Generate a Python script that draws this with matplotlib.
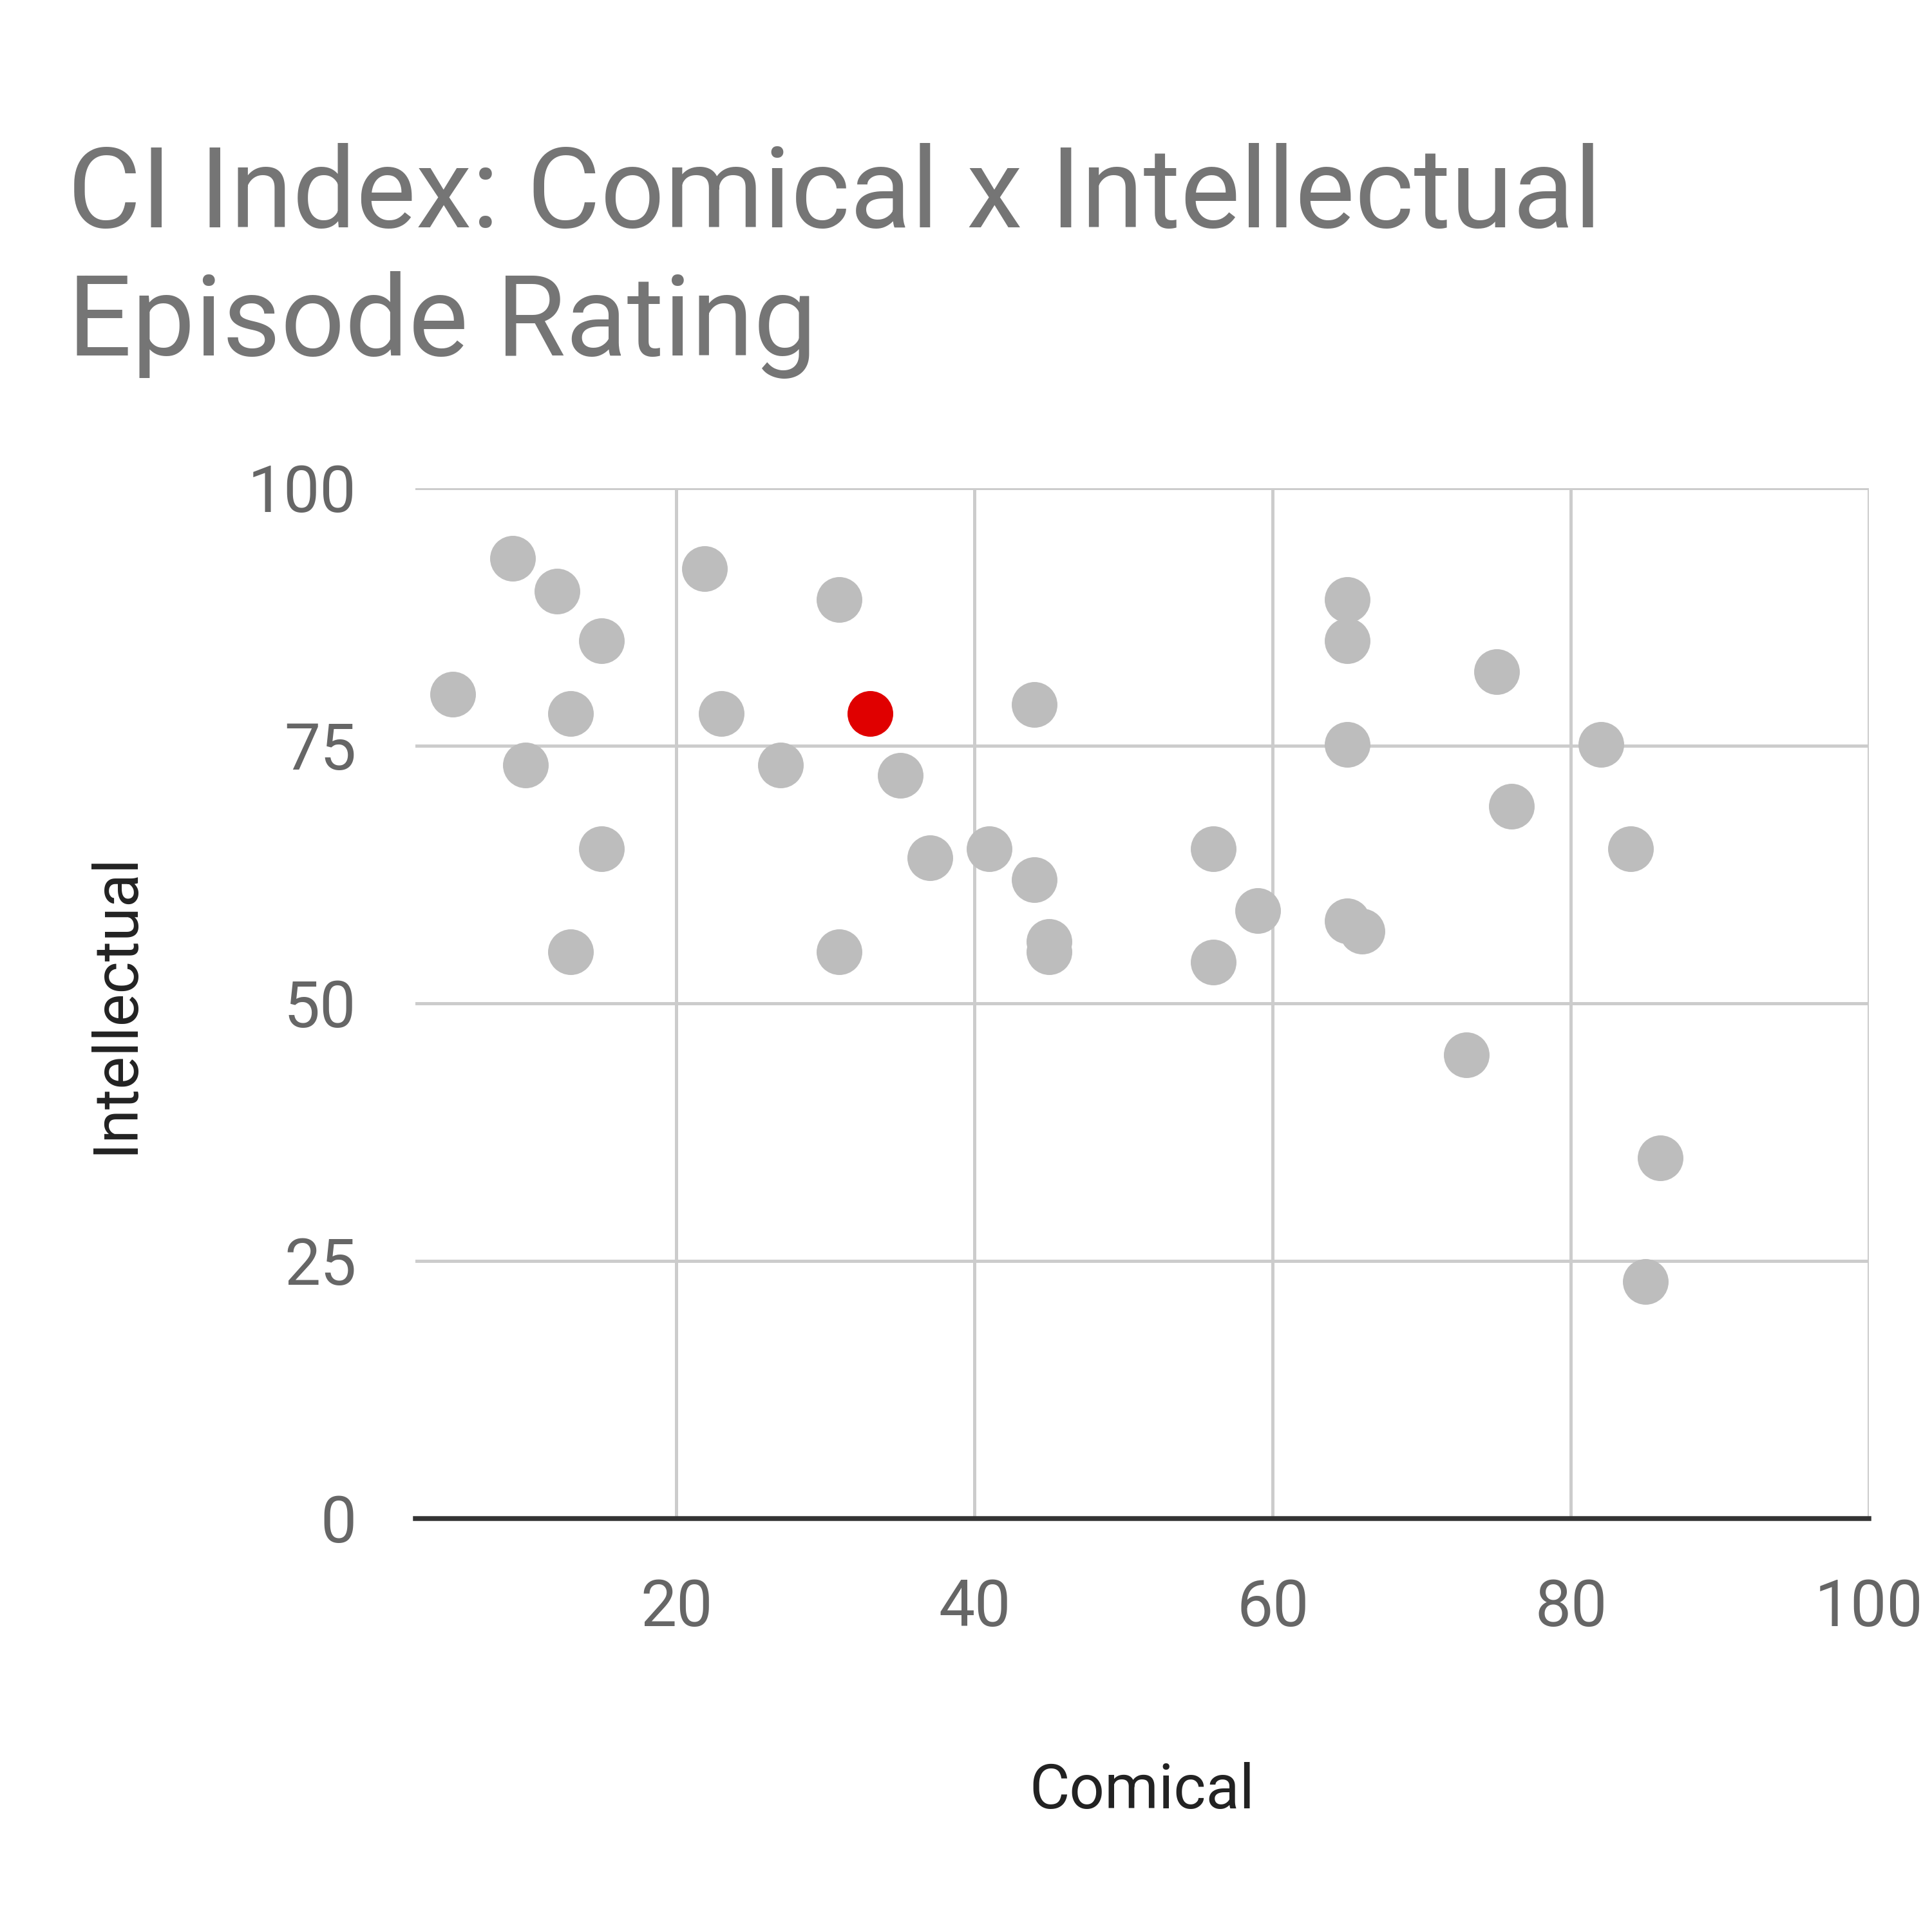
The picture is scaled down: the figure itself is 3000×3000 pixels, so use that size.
import matplotlib
matplotlib.use("Agg")
import matplotlib.pyplot as plt

plt.rcParams["font.family"] = ["Roboto", "DejaVu Sans"]

comical = [9, 12, 15, 5, 12.9, 9.9, 15, 12.9, 21.9, 23, 27, 30.9, 30.9, 35, 37, 41,
           44, 44, 45, 45, 56, 56, 59, 65, 65, 65, 65, 66, 73, 75, 76, 82, 84, 86, 85]
intellectual = [93.2, 90, 85.2, 80, 78.1, 73.1, 65, 55, 92.2, 78.1, 73.1, 89.2, 55, 72.1,
                64.1, 65, 79, 62, 56, 55, 65, 54, 59, 89.2, 85.2, 75.1, 58, 57, 45,
                82.2, 69.1, 75.1, 65, 35, 23]
highlight_x = [33]
highlight_y = [78.1]

fig = plt.figure(figsize=(10, 10), dpi=300)
ax = fig.add_axes([0.215, 0.214, 0.7525, 0.5334])

ax.scatter(comical, intellectual, s=290, color="#bdbdbd", linewidths=0, zorder=3)
ax.scatter(highlight_x, highlight_y, s=290, color="#e00000", linewidths=0, zorder=4)

ax.set_xlim(2.5, 100)
ax.set_ylim(0, 100)
ax.set_xticks([20, 40, 60, 80, 100])
ax.set_yticks([0, 25, 50, 75, 100])
ax.grid(True, color="#cccccc", linewidth=1.2)
ax.set_axisbelow(True)
for side in ["top", "right", "left"]:
    ax.spines[side].set_visible(False)
ax.spines["bottom"].set_color("#333333")
ax.spines["bottom"].set_linewidth(1.8)
ax.tick_params(length=0, labelsize=24, labelcolor="#666666", pad=22)

ax.set_xlabel("Comical", fontsize=23, color="#222222", labelpad=46)
ax.set_ylabel("Intellectual", fontsize=23, color="#222222", labelpad=38)

fig.text(0.035, 0.865, "CI Index: Comical x Intellectual\nEpisode Rating",
         fontsize=42, color="#757575", ha="left", va="center", linespacing=1.25)

fig.savefig("out.png", dpi=300)
